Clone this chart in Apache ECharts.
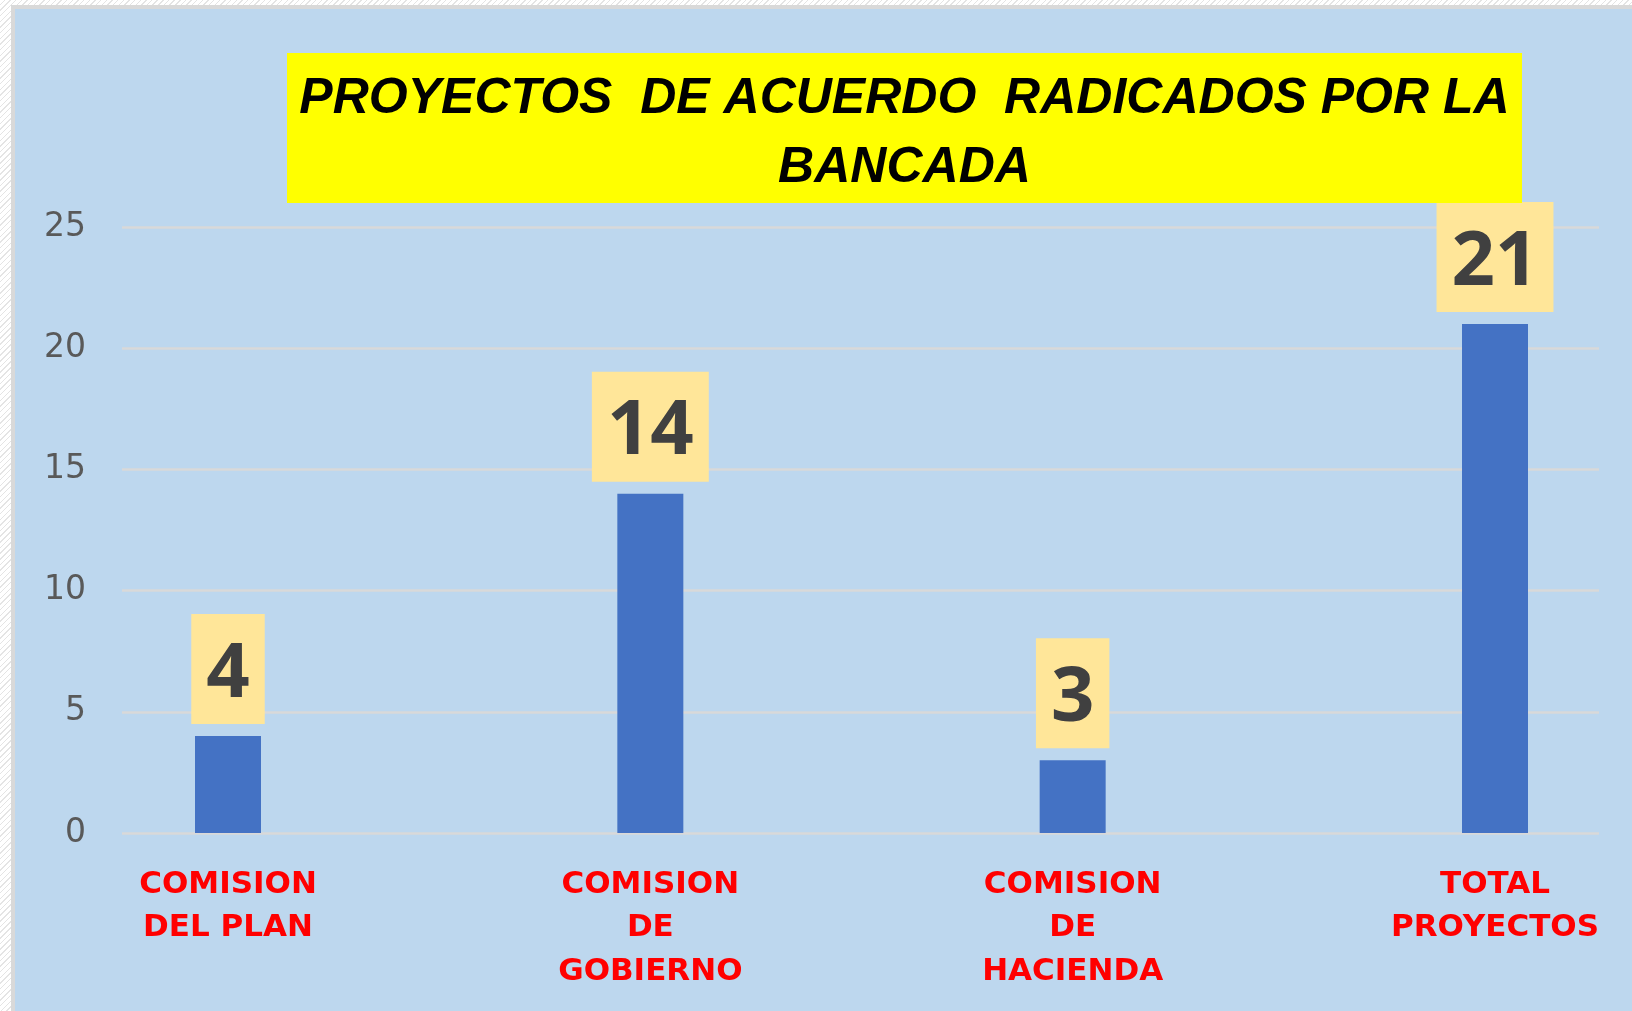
<!DOCTYPE html>
<html>
<head>
<meta charset="utf-8">
<title>Proyectos de acuerdo radicados por la bancada</title>
<script src="https://cdn.jsdelivr.net/npm/echarts@6/dist/echarts.min.js"></script>
<style>
  html, body { margin: 0; padding: 0; }
  body {
    width: 1632px;
    height: 1011px;
    overflow: hidden;
    position: relative;
    background: repeating-linear-gradient(135deg, #ffffff 0 3px, #e4e4e4 3px 4px);
  }
  #frame {
    position: absolute;
    left: 11px;
    top: 5px;
    right: 0;
    bottom: 0;
    border-left: 4px solid #d9d9d9;
    border-top: 4px solid #d9d9d9;
    background: #bdd7ee;
  }
  #main { position: absolute; left: 0; top: 0; width: 1632px; height: 1011px; }
</style>
</head>
<body>
<div id="frame"></div>
<div id="main"></div>
<script>
// datos del grafico
const categorias = [
  "COMISION\nDEL PLAN",
  "COMISION\nDE\nGOBIERNO",
  "COMISION\nDE\nHACIENDA",
  "TOTAL\nPROYECTOS",
];
const proyectos = [4, 14, 3, 21];
const tituloLineas = ["PROYECTOS  DE ACUERDO  RADICADOS POR LA", "BANCADA"];
const ejeY = { min: 0, max: 25, interval: 5 };

const gridTop = 227;
const gridBottom = 1011 - 833;

/**
 * titulo en caja amarilla
 */
const tituloGraphic = () => {
  const box = { x: 287, y: 53, w: 1235, h: 150 };
  const cx = box.x + box.w / 2;
  const ys = [99, 168];
  return [
    {
      type: "rect",
      z: 50,
      shape: { x: box.x, y: box.y, width: box.w, height: box.h },
      style: { fill: "#ffff00" },
    },
    ...tituloLineas.map((t, i) => ({
      type: "text",
      z: 51,
      x: cx,
      y: ys[i],
      style: {
        text: t,
        x: 0,
        y: 0,
        fill: "#000000",
        fontSize: 50,
        fontWeight: "bold",
        fontStyle: "italic",
        fontFamily: '"Liberation Sans", Arial, sans-serif',
        align: "center",
        verticalAlign: "middle",
        textAlign: "center",
        textVerticalAlign: "middle",
      },
    })),
  ];
};

const option = {
  animation: false,
  backgroundColor: "transparent",
  grid: [
    // cuadricula de fondo (lineas horizontales)
    { left: 122, right: 1632 - 1599, top: gridTop, bottom: gridBottom, outerBoundsMode: "none" },
    // barras
    { left: 228, right: 1632 - 1495, top: gridTop, bottom: gridBottom, outerBoundsMode: "none" },
  ],
  xAxis: [
    { gridIndex: 0, type: "category", data: categorias, show: false },
    {
      gridIndex: 1,
      type: "category",
      data: categorias,
      boundaryGap: false,
      axisLine: { show: false },
      axisTick: { show: false },
      axisLabel: {
        interval: 0,
        margin: 30,
        color: "#ff0000",
        fontSize: 31,
        fontWeight: "bold",
        fontFamily: '"DejaVu Sans", sans-serif',
        lineHeight: 43.5,
        align: "center",
      },
    },
  ],
  yAxis: [
    {
      gridIndex: 0,
      type: "value",
      min: ejeY.min,
      max: ejeY.max,
      interval: ejeY.interval,
      axisLine: { show: false },
      axisTick: { show: false },
      axisLabel: {
        margin: 36,
        color: "#595959",
        fontSize: 33,
        fontFamily: '"DejaVu Sans", sans-serif',
      },
      splitLine: { lineStyle: { color: "#d9d9d9", width: 2.5 } },
    },
    {
      gridIndex: 1,
      type: "value",
      min: ejeY.min,
      max: ejeY.max,
      interval: ejeY.interval,
      show: false,
      splitLine: { show: false },
    },
  ],
  graphic: tituloGraphic(),
  series: [
    {
      type: "bar",
      xAxisIndex: 1,
      yAxisIndex: 1,
      data: proyectos,
      barWidth: 66,
      itemStyle: { color: "#4472c4" },
      label: {
        show: true,
        position: "top",
        distance: 12,
        formatter: "{c}",
        color: "#404040",
        fontSize: 76,
        fontWeight: "bold",
        fontFamily: '"Open Sans", sans-serif',
        lineHeight: 80,
        backgroundColor: "#ffe699",
        padding: [21, 15, 9, 15],
      },
    },
  ],
};

const myChart = echarts.init(document.getElementById("main"), null, { renderer: "canvas" });
myChart.setOption(option);
</script>
</body>
</html>
